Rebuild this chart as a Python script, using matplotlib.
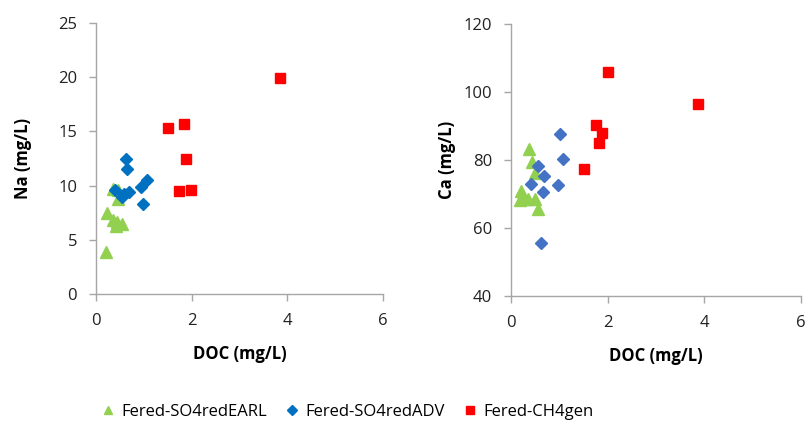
import matplotlib.pyplot as plt

# Na panel
na_earl_doc = [0.21, 0.22, 0.35, 0.47, 0.47, 0.36, 0.42, 0.54, 0.44]
na_earl = [3.85, 7.44, 9.66, 9.6, 8.73, 6.83, 6.3, 6.5, 6.6]
na_adv_doc = [0.62, 0.64, 1.07, 0.95, 0.99, 0.40, 0.70, 0.59, 0.54]
na_adv = [12.5, 11.5, 10.5, 9.85, 8.33, 9.6, 9.44, 9.2, 8.98]
na_ch4_doc = [3.85, 1.51, 1.83, 1.88, 1.73, 1.99]
na_ch4 = [19.9, 15.35, 15.7, 12.5, 9.5, 9.6]

# Ca panel
ca_earl_doc = [0.38, 0.44, 0.50, 0.20, 0.27, 0.19, 0.36, 0.50, 0.55]
ca_earl = [83.1, 79.3, 76.3, 71.0, 68.4, 68.2, 68.4, 68.5, 65.6]
ca_adv_doc = [1.01, 1.08, 0.55, 0.68, 0.41, 0.97, 0.67, 0.63]
ca_adv = [87.6, 80.3, 78.2, 75.3, 72.8, 72.6, 70.5, 55.7]
ca_ch4_doc = [2.01, 3.86, 1.75, 1.88, 1.83, 1.52]
ca_ch4 = [106.0, 96.4, 90.2, 88.0, 84.9, 77.3]

labels = ["Fered-SO4redEARL", "Fered-SO4redADV", "Fered-CH4gen"]
GREEN = "#92D050"
RED = "#FF0000"

plt.rcParams['font.family'] = ['Open Sans', 'DejaVu Sans']

fig = plt.figure(figsize=(8.07, 4.25), dpi=100)
W, H = 807, 425
ax1 = fig.add_axes([96 / W, 1 - 294 / H, 287 / W, 271 / H])
ax2 = fig.add_axes([511 / W, 1 - 296 / H, 290 / W, 272 / H])


def style(ax):
    for s in ["top", "right"]:
        ax.spines[s].set_visible(False)
    for s in ["left", "bottom"]:
        ax.spines[s].set_color("#A6A6A6")
        ax.spines[s].set_linewidth(1.0)
    ax.tick_params(colors="#A6A6A6", labelcolor="#222222", labelsize=12,
                   length=5, width=1.0)
    ax.tick_params(axis="x", pad=9)
    ax.tick_params(axis="y", pad=8.5)
    ax.set_xlim(0, 6)
    ax.set_xticks([0, 2, 4, 6])


ms = 7
h1 = ax1.plot(na_earl_doc, na_earl, "^", color=GREEN, ms=ms + 1, ls="none", clip_on=False)[0]
h2 = ax1.plot(na_adv_doc, na_adv, "D", color="#0070C0", ms=ms - 0.5, ls="none", clip_on=False)[0]
h3 = ax1.plot(na_ch4_doc, na_ch4, "s", color=RED, ms=ms, ls="none", clip_on=False)[0]
style(ax1)
ax1.set_ylim(0, 25)
ax1.set_yticks([0, 5, 10, 15, 20, 25])
ax1.set_ylabel("Na (mg/L)", fontsize=12, fontweight="bold", labelpad=19)
ax1.set_xlabel("DOC (mg/L)", fontsize=12, fontweight="bold", labelpad=11.5)

ax2.plot(ca_earl_doc, ca_earl, "^", color=GREEN, ms=ms + 1, ls="none", clip_on=False)
ax2.plot(ca_adv_doc, ca_adv, "D", color="#4472C4", ms=ms - 0.5, ls="none", clip_on=False)
ax2.plot(ca_ch4_doc, ca_ch4, "s", color=RED, ms=ms, ls="none", clip_on=False)
style(ax2)
ax2.set_ylim(40, 120)
ax2.set_yticks([40, 60, 80, 100, 120])
ax2.set_ylabel("Ca (mg/L)", fontsize=12, fontweight="bold", labelpad=5.5)
ax2.set_xlabel("DOC (mg/L)", fontsize=12, fontweight="bold", labelpad=11.5)

fig.legend([h1, h2, h3], labels, loc="center left", bbox_to_anchor=(88 / W, 1 - 412 / H),
           ncol=3, frameon=False, fontsize=12, markerscale=0.75,
           handlelength=0.6, handletextpad=0.5, columnspacing=1.2)

fig.savefig("out.png", dpi=100)
